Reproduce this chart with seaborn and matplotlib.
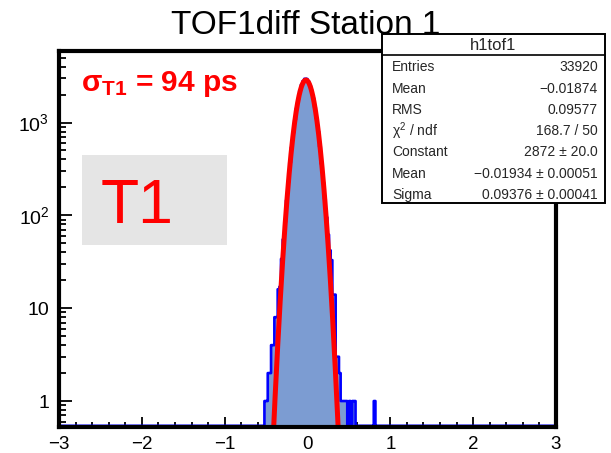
import numpy as np
import pandas as pd
import matplotlib
matplotlib.use("Agg")
import matplotlib.pyplot as plt
from matplotlib.patches import Rectangle
from matplotlib.ticker import MultipleLocator, LogLocator, FuncFormatter
import seaborn as sns

# histogram: 300 bins of 0.02 from -3 to 3, counts
bin_width = 0.02
x_range = (-3, 3)
peak_start = -0.52
peak_counts = [1, 1, 2, 2, 4, 4, 8, 8, 16, 17,
               34, 55, 85, 145, 230, 370, 540, 780, 1070, 1420,
               1800, 2200, 2550, 2800, 2960, 2950, 2780, 2520, 2200, 1830,
               1460, 1110, 800, 550, 360, 225, 150, 95, 62, 42,
               33, 14, 14, 3, 3, 2, 1, 1, 1, 1,
               0, 1, 0, 1, 1]
stray_centers = [0.81]
stray_counts = [1]

# gaussian fit parameters from the stats box
fit_const = 2872
fit_mean = -0.01934
fit_sigma = 0.09376
fit_range = (-0.5, 0.5)

stats_rows = [("Entries", "33920"),
              ("Mean", "\u22120.01874"),
              ("RMS", "0.09577"),
              ("\u03c7$^{2}$ / ndf", "168.7 / 50"),
              ("Constant", "2872 \u00b1 20.0"),
              ("Mean", "\u22120.01934 \u00b1 0.00051"),
              ("Sigma", "0.09376 \u00b1 0.00041")]

sns.set_style("white")
plt.rcParams['font.family'] = ['Liberation Sans', 'DejaVu Sans']
plt.rcParams['mathtext.fontset'] = 'custom'
plt.rcParams['mathtext.rm'] = 'Liberation Sans'
plt.rcParams['mathtext.it'] = 'Liberation Sans:italic'
plt.rcParams['mathtext.bf'] = 'Liberation Sans:bold'

nbins = int(round((x_range[1] - x_range[0]) / bin_width))
centers = x_range[0] + bin_width * (np.arange(nbins) + 0.5)
counts = np.zeros(nbins)
i0 = int(round((peak_start - x_range[0]) / bin_width))
counts[i0:i0 + len(peak_counts)] = peak_counts
for c, n in zip(stray_centers, stray_counts):
    counts[int(round((c - x_range[0]) / bin_width - 0.5))] = n

ymin, ymax = 0.525, 5900
df = pd.DataFrame({"x": centers, "w": np.maximum(counts, ymin * 1.03)})

W, H = 611, 453
fig = plt.figure(figsize=(W / 100, H / 100), dpi=100)
ax = fig.add_axes([59 / W, 1 - 427 / H, (556 - 59) / W, (427 - 51) / H])

sns.histplot(data=df, x="x", weights="w", binwidth=bin_width, binrange=x_range,
             element="step", fill=True, color="#7c9cd2", alpha=1,
             edgecolor="#0000ff", linewidth=1.9, ax=ax)

xf = np.linspace(fit_range[0], fit_range[1], 400)
yf = fit_const * np.exp(-0.5 * ((xf - fit_mean) / fit_sigma) ** 2)
sns.lineplot(x=xf, y=yf, color="#ff0000", linewidth=3.6, ax=ax, zorder=5)

ax.set_yscale("log")
ax.set_xlim(*x_range)
ax.set_ylim(ymin, ymax)
ax.set_xlabel("")
ax.set_ylabel("")

for s in ax.spines.values():
    s.set_linewidth(3)
    s.set_color("black")
    s.set_zorder(10)

ax.xaxis.set_major_locator(MultipleLocator(1))
ax.xaxis.set_minor_locator(MultipleLocator(0.2))
ax.yaxis.set_major_locator(LogLocator(base=10, numticks=10))
ax.yaxis.set_minor_locator(LogLocator(base=10, subs=np.arange(2, 10), numticks=10))


def ylab(v, pos):
    if v < 0.9 or v > 1e4:
        return ""
    n = int(round(np.log10(v)))
    if n == 0:
        return "1"
    if n == 1:
        return "10"
    return "10$^{%d}$" % n


ax.yaxis.set_major_formatter(FuncFormatter(ylab))
ax.tick_params(axis="both", which="both", direction="in", bottom=True, left=True,
               top=False, right=False, width=1.3, colors="black", labelsize=14)
ax.tick_params(axis="x", which="major", length=7, pad=6.5, labelsize=13.5)
ax.tick_params(axis="x", which="minor", length=3.5)
ax.tick_params(axis="y", which="major", length=9.5, pad=7)
ax.tick_params(axis="y", which="minor", length=5)

# title
fig.text(0.5, 1 - 34 / H, "TOF1diff Station 1", ha="center", va="baseline",
         fontsize=24, color="black")

# sigma label
fig.text(81 / W, 1 - 91 / H, "\u03c3$_{\\mathbf{T1}}$ = 94 ps", ha="left",
         va="baseline", fontsize=21.5, fontweight="bold", color="#ff0000")

# T1 box
fig.patches.append(Rectangle((82 / W, 1 - 245 / H), (227 - 82) / W, (245 - 155) / H,
                             transform=fig.transFigure, facecolor="#e5e5e5",
                             edgecolor="none", zorder=1))
fig.text(101 / W, 1 - 223 / H, "T1", ha="left", va="baseline", fontsize=45,
         color="#ff0000", zorder=2)

# stats box
bx0, bx1, by0, by1 = 382, 605, 34, 203
fig.patches.append(Rectangle((bx0 / W, 1 - by1 / H), (bx1 - bx0) / W, (by1 - by0) / H,
                             transform=fig.transFigure, facecolor="white",
                             edgecolor="black", linewidth=1.4, zorder=20))
fig.add_artist(plt.Line2D([bx0 / W, bx1 / W], [1 - 55 / H, 1 - 55 / H],
                          transform=fig.transFigure, color="black", linewidth=1.2,
                          zorder=21))
fig.text((bx0 + bx1) / 2 / W, 1 - 45 / H, "h1tof1", ha="center", va="center",
         fontsize=12, zorder=22)
row_y = [67, 89, 110, 131, 152, 174, 195]
for (name, val), yy in zip(stats_rows, row_y):
    fig.text(392 / W, 1 - yy / H, name, ha="left", va="center", fontsize=10, zorder=22)
    fig.text(598 / W, 1 - yy / H, val, ha="right", va="center", fontsize=10, zorder=22)

fig.savefig("out.png", dpi=100)
